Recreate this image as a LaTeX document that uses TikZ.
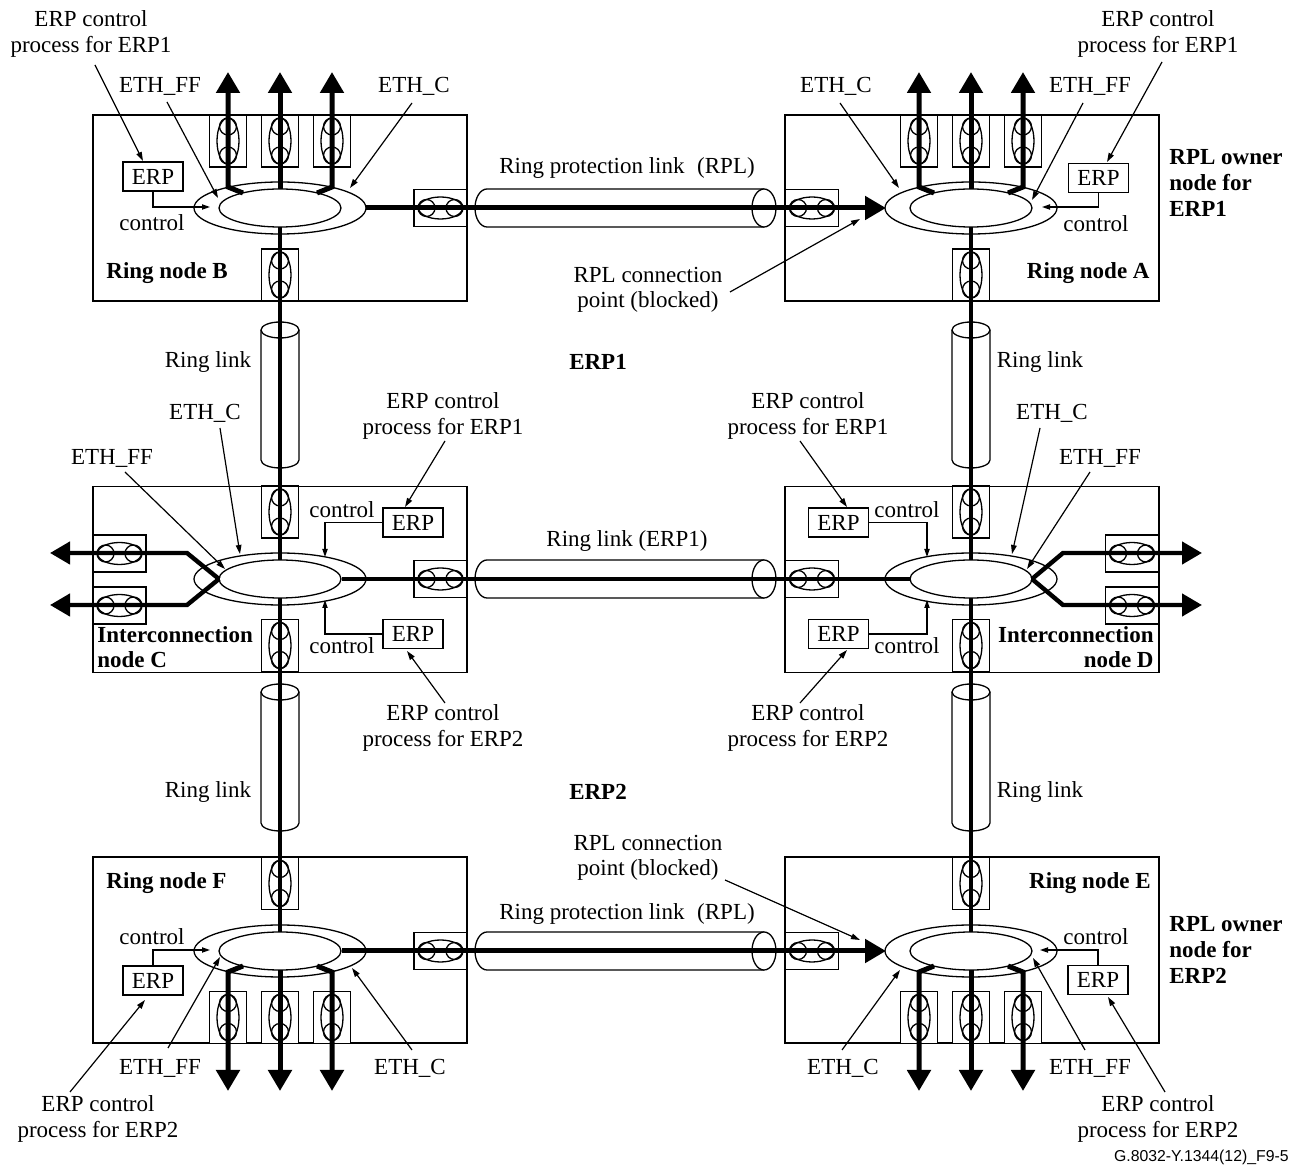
\documentclass[tikz,border=0pt]{standalone}
\usepackage{fontspec}
\setmainfont{Liberation Serif}
\newfontfamily\footfont{Liberation Sans}
\usetikzlibrary{arrows.meta,shapes.geometric}
\tikzset{
 vport/.pic={\draw[tline,fill=white] (-18.5,-26) rectangle (18.5,26);
   \draw[tline] (0,0) ellipse[x radius=5.5pt,y radius=11.5pt];
   \draw[tline] (0,-14.5) circle[radius=4.25pt];
   \draw[tline] (0,14.5) circle[radius=4.25pt];},
 hport/.pic={\draw[tline,fill=white] (-26.5,-18.5) rectangle (26.5,18.5);
   \draw[tline] (0,0) ellipse[x radius=11pt,y radius=5.5pt];
   \draw[tline] (-14,0) circle[radius=4.25pt];
   \draw[tline] (14,0) circle[radius=4.25pt];}
}
\newcommand\myhcyl[1]{%
 \draw[tline,fill=white] (764,#1-19) -- (487,#1-19) arc[start angle=90,end angle=270,x radius=6pt,y radius=9.5pt] -- (764,#1+19);
 \draw[tline,fill=white] (764,#1) ellipse[x radius=6pt,y radius=9.5pt];}
\newcommand\myvcyl[3]{%
 \draw[tline,fill=white] (#1+19,#2) -- (#1+19,#3) arc[start angle=0,end angle=-180,x radius=9.5pt,y radius=4pt] -- (#1-19,#2);
 \draw[tline,fill=white] (#1,#2) ellipse[x radius=9.5pt,y radius=4pt];}
\newcommand\myring[2]{%
 \draw[tline,fill=white] (#1,#2) ellipse[x radius=43pt,y radius=13pt];
 \draw[tline] (#1,#2) ellipse[x radius=30.5pt,y radius=9.5pt];}
\begin{document}
\begin{tikzpicture}[x=0.5pt,y=-0.5pt,
 tline/.style={line width=0.65pt},
 bigline/.style={line width=2.5pt,-{Triangle[length=10.5pt,width=11.5pt]}},
 sideline/.style={line width=2.2pt,-{Triangle[length=10pt,width=11pt]}},
 ringline/.style={line width=2pt},
 callout/.style={line width=0.6pt,-{Triangle[length=4.5pt,width=2.8pt]}},
 ctrl/.style={line width=0.6pt,-{Triangle[length=4pt,width=2.6pt]}},
 lbl/.style={font=\fontsize{11.5}{12.8}\selectfont,align=center,inner sep=0pt},
 blbl/.style={font=\fontsize{11.5}{12.8}\selectfont\bfseries,inner sep=0pt},
 erpbox/.style={draw,tline,minimum width=30pt,minimum height=14.5pt,inner sep=0pt,font=\fontsize{11.5}{12.8}\selectfont},
 nodebox/.style={draw,tline,minimum width=187pt,minimum height=93pt,inner sep=0pt}]
\useasboundingbox (0,0) rectangle (1303,1165);

% node boxes
\node[nodebox] (B) at (280,208) {};
\node[nodebox] (A) at (972,208) {};
\node[nodebox] (C) at (280,579.5) {};
\node[nodebox] (D) at (972,579.5) {};
\node[nodebox] (F) at (280,950) {};
\node[nodebox] (E) at (972,950) {};

% cylinders
\myhcyl{208}
\myhcyl{579}
\myhcyl{951}
\myvcyl{280}{330}{460}
\myvcyl{971}{330}{460}
\myvcyl{280}{692}{823}
\myvcyl{971}{692}{823}

% ports
\foreach \px in {228,280,332} {\pic at (\px,141) {vport}; \pic at (\px,1017.5) {vport};}
\foreach \px in {919,971,1023} {\pic at (\px,141) {vport}; \pic at (\px,1017.5) {vport};}
\pic at (280,275) {vport}; \pic at (971,275) {vport};
\pic at (280,512) {vport}; \pic at (971,512) {vport};
\pic at (280,645.5) {vport}; \pic at (971,645.5) {vport};
\pic at (280,883.5) {vport}; \pic at (971,883.5) {vport};
\pic at (440.5,208) {hport}; \pic at (812,208) {hport};
\pic at (440.5,579) {hport}; \pic at (812,579) {hport};
\pic at (440.5,951) {hport}; \pic at (812,951) {hport};
\pic at (119.5,553.5) {hport}; \pic at (119.5,605.5) {hport};
\pic at (1132,553.5) {hport}; \pic at (1132,605.5) {hport};

% rings
\myring{280}{208}
\myring{971}{208}
\myring{280}{579}
\myring{971}{579}
\myring{280}{951}
\myring{971}{951}

% thick lines: top arrows
\draw[bigline] (243,193) -- (228,187) -- (228,72);
\draw[bigline] (280,189) -- (280,72);
\draw[bigline] (317,193) -- (332,187) -- (332,72);
\draw[bigline] (934,193) -- (919,187) -- (919,72);
\draw[bigline] (971,189) -- (971,72);
\draw[bigline] (1008,193) -- (1023,187) -- (1023,72);
% bottom arrows
\draw[bigline] (243,966) -- (228,972) -- (228,1091);
\draw[bigline] (280,970) -- (280,1091);
\draw[bigline] (317,966) -- (332,972) -- (332,1091);
\draw[bigline] (934,966) -- (919,972) -- (919,1091);
\draw[bigline] (971,970) -- (971,1091);
\draw[bigline] (1008,966) -- (1023,972) -- (1023,1091);
% RPL lines
\draw[bigline] (366,208) -- (886,208);
\draw[bigline] (342,951) -- (886,951);
% ring links
\draw[ringline] (280,227) -- (280,560);
\draw[ringline] (971,227) -- (971,560);
\draw[ringline] (280,598) -- (280,932);
\draw[ringline] (971,598) -- (971,932);
\draw[ringline] (342,579) -- (910,579);
% side arrows
\draw[sideline,line join=miter] (219,579) -- (187,553) -- (50,553);
\draw[sideline] (219,579) -- (187,605) -- (50,605);
\draw[sideline] (1032,579) -- (1063,553) -- (1202,553);
\draw[sideline] (1032,579) -- (1063,605) -- (1202,605);

% ERP boxes and control wires
\node[erpbox] (erpB) at (153,176.5) {ERP};
\node[erpbox] (erpA) at (1098.5,178) {ERP};
\node[erpbox] (erpC1) at (413,522.5) {ERP};
\node[erpbox] (erpC2) at (413,634) {ERP};
\node[erpbox] (erpD1) at (838.5,522.5) {ERP};
\node[erpbox] (erpD2) at (838.5,634) {ERP};
\node[erpbox] (erpF) at (153,980.5) {ERP};
\node[erpbox] (erpE) at (1098,980) {ERP};
\coordinate (cB) at (210,207);
\coordinate (cA) at (1042,207);
\coordinate (cC1) at (325,557);
\coordinate (cC2) at (325,600);
\coordinate (cD1) at (927,557);
\coordinate (cD2) at (927,600);
\coordinate (cF) at (210,950);
\coordinate (cE) at (1040,950);
\draw[ctrl] (erpB.south) |- (cB);
\draw[ctrl] (erpA.south) |- (cA);
\draw[ctrl] (erpC1.west) -| (cC1);
\draw[ctrl] (erpC2.west) -| (cC2);
\draw[ctrl] (erpD1.east) -| (cD1);
\draw[ctrl] (erpD2.east) -| (cD2);
\draw[ctrl] (erpF.north) |- (cF);
\draw[ctrl] (erpE.north) |- (cE);
\node[lbl] (ctB) at (152,223) {control};
\node[lbl] (ctA) at (1096,224) {control};
\node[lbl] (ctC1) at (342,510) {control};
\node[lbl] (ctC2) at (342,646) {control};
\node[lbl] (ctD1) at (907,510) {control};
\node[lbl] (ctD2) at (907,646) {control};
\node[lbl] (ctF) at (152,937) {control};
\node[lbl] (ctE) at (1096,937) {control};

% bold labels
\node[blbl,anchor=west] (nB) at (106,273) {Ring node B};
\node[blbl,anchor=east] (nA) at (1150,273) {Ring node A};
\node[blbl,anchor=west] (nF) at (106,883) {Ring node F};
\node[blbl,anchor=east] (nE) at (1151,883) {Ring node E};
\node[blbl,anchor=west,align=left] (nC) at (97,647) {Interconnection\\node C};
\node[blbl,anchor=east,align=right] (nD) at (1154,647) {Interconnection\\node D};
\node[blbl,anchor=west,align=left] (own1) at (1169,183) {RPL owner\\node for\\ERP1};
\node[blbl,anchor=west,align=left] (own2) at (1169,950) {RPL owner\\node for\\ERP2};
\node[blbl] (erp1) at (598,362) {ERP1};
\node[blbl] (erp2) at (598,792) {ERP2};

% link labels
\node[lbl] (rl1) at (208,362) {Ring link};
\node[lbl] (rl2) at (1040,362) {Ring link};
\node[lbl] (rl3) at (208,792) {Ring link};
\node[lbl] (rl4) at (1040,792) {Ring link};
\node[lbl] (rlE) at (627,541) {Ring link (ERP1)};
\node[lbl] (rpl1) at (627,168) {Ring protection link\hspace{0.3em} (RPL)};
\node[lbl] (rpl2) at (627,914) {Ring protection link\hspace{0.3em} (RPL)};

% callout labels
\node[lbl] (pB) at (91,34) {ERP control\\process for ERP1};
\node[lbl] (pA) at (1158,34) {ERP control\\process for ERP1};
\node[lbl] (pC1) at (443,416) {ERP control\\process for ERP1};
\node[lbl] (pD1) at (808,416) {ERP control\\process for ERP1};
\node[lbl] (pC2) at (443,728) {ERP control\\process for ERP2};
\node[lbl] (pD2) at (808,728) {ERP control\\process for ERP2};
\node[lbl] (pF) at (98,1119) {ERP control\\process for ERP2};
\node[lbl] (pE) at (1158,1119) {ERP control\\process for ERP2};
\node[lbl] (cp1) at (648,290) {RPL connection\\point (blocked)};
\node[lbl] (cp2) at (648,858) {RPL connection\\point (blocked)};
\node[lbl] (efB) at (160,86) {ETH\_FF};
\node[lbl] (ecB) at (414,86) {ETH\_C};
\node[lbl] (ecA) at (836,86) {ETH\_C};
\node[lbl] (efA) at (1090,86) {ETH\_FF};
\node[lbl] (ecC) at (205,413) {ETH\_C};
\node[lbl] (efC) at (112,458) {ETH\_FF};
\node[lbl] (ecD) at (1052,413) {ETH\_C};
\node[lbl] (efD) at (1100,458) {ETH\_FF};
\node[lbl] (efF) at (160,1068) {ETH\_FF};
\node[lbl] (ecF) at (410,1068) {ETH\_C};
\node[lbl] (ecE) at (843,1068) {ETH\_C};
\node[lbl] (efE) at (1090,1068) {ETH\_FF};

% callout arrows
\draw[callout] (95,65) -- (143,161);
\draw[callout] (167,102) -- (218,198);
\draw[callout] (412,103) -- (350,188);
\draw[callout] (840,103) -- (899,188);
\draw[callout] (1083,103) -- (1032,200);
\draw[callout] (1162,62) -- (1107,162);
\draw[callout] (730,292) -- (860,219);
\draw[callout] (220,428) -- (240,554);
\draw[callout] (125,472) -- (225,569);
\draw[callout] (445,441) -- (405,507);
\draw[callout] (800,441) -- (847,507);
\draw[callout] (1040,428) -- (1012,554);
\draw[callout] (1090,472) -- (1027,569);
\draw[callout] (445,703) -- (407,651);
\draw[callout] (800,703) -- (847,650);
\draw[callout] (725,880) -- (860,940);
\draw[callout] (168,1048) -- (220,957);
\draw[callout] (412,1050) -- (352,968);
\draw[callout] (70,1092) -- (145,1000);
\draw[callout] (842,1050) -- (900,970);
\draw[callout] (1085,1050) -- (1033,958);
\draw[callout] (1165,1092) -- (1108,997);

\node[font=\footfont\fontsize{7.9}{9}\selectfont,anchor=east,inner sep=0pt] (foot) at (1289,1157) {G.8032-Y.1344(12)\_F9-5};
\end{tikzpicture}
\end{document}
